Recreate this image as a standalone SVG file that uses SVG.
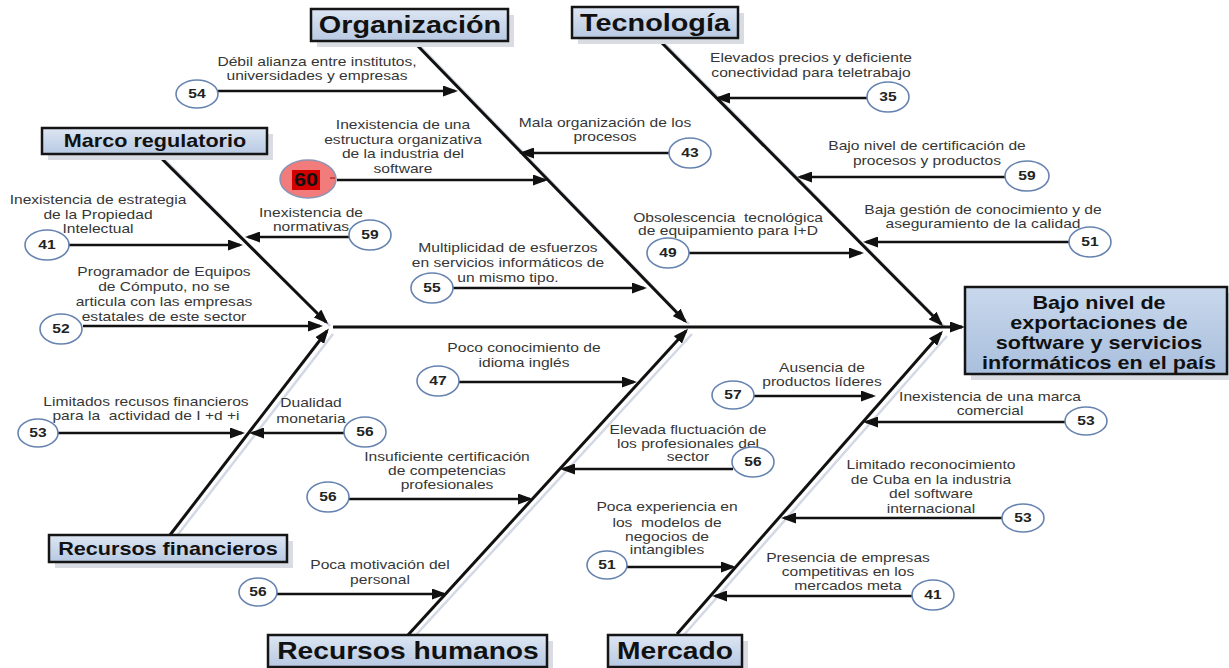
<svg xmlns="http://www.w3.org/2000/svg" width="1229" height="668" viewBox="0 0 1229 668">
<defs>
<linearGradient id="boxg" x1="0" y1="0" x2="0" y2="1"><stop offset="0" stop-color="#dde6f3"/><stop offset="1" stop-color="#b7c9e2"/></linearGradient>
<linearGradient id="effg" x1="0" y1="0" x2="0" y2="1"><stop offset="0" stop-color="#c9d8ec"/><stop offset="1" stop-color="#a9bfdd"/></linearGradient>
<marker id="ah" markerUnits="userSpaceOnUse" markerWidth="15" markerHeight="11" refX="12" refY="5.5" orient="auto"><path d="M0,0 L15,5.5 L0,11 z" fill="#111"/></marker>
<style>
.lbl{font-family:"Liberation Sans",Arial,sans-serif;font-size:13px;fill:#363636;text-anchor:middle}
.pre{white-space:pre}
.num{font-family:"Liberation Sans",Arial,sans-serif;font-size:13px;font-weight:bold;fill:#222;text-anchor:middle}
.big{font-size:18px;fill:#111}
.cat{font-family:"Liberation Sans",Arial,sans-serif;font-weight:bold;fill:#111;text-anchor:middle}
.box{fill:url(#boxg);stroke:#151515;stroke-width:2.5}
.shd{fill:#d9dde3}
.c{fill:#fff;stroke:#6683b0;stroke-width:1.6}
.ar{stroke:#111;stroke-width:2.5;fill:none;marker-end:url(#ah)}
.br{stroke:#111;stroke-width:3;fill:none;marker-end:url(#ah)}
.bs{stroke:#d2d9e4;stroke-width:2.5;fill:none}
</style>
</defs>
<rect width="1229" height="668" fill="#fff"/>

<g id="connectors">
<line class="bs" x1="162" y1="157" x2="330" y2="326"/>
<line class="bs" x1="176" y1="537" x2="333" y2="334"/>
<line class="bs" x1="418" y1="44" x2="689" y2="324"/>
<line class="bs" x1="414" y1="637" x2="692" y2="334"/>
<line class="bs" x1="662" y1="41" x2="945" y2="327"/>
<line class="bs" x1="683" y1="636" x2="947" y2="336"/>
<line class="br" x1="333" y1="327" x2="962" y2="327"/>
<line class="br" x1="157" y1="154" x2="326" y2="322"/>
<line class="br" x1="170" y1="535" x2="327" y2="331"/>
<line class="br" x1="413" y1="41" x2="685" y2="321"/>
<line class="br" x1="408" y1="635" x2="686" y2="331"/>
<line class="br" x1="657" y1="38" x2="941" y2="324"/>
<line class="br" x1="677" y1="634" x2="941" y2="333"/>
<line class="ar" x1="218" y1="91" x2="455" y2="91"/>
<line class="ar" x1="337" y1="180" x2="545" y2="180"/>
<line class="ar" x1="669" y1="153" x2="522" y2="153"/>
<line class="ar" x1="453" y1="288" x2="644" y2="288"/>
<line class="ar" x1="69" y1="245" x2="240" y2="245"/>
<line class="ar" x1="349" y1="237" x2="248" y2="237"/>
<line class="ar" x1="83" y1="326" x2="320" y2="326"/>
<line class="ar" x1="58" y1="433" x2="242" y2="433"/>
<line class="ar" x1="344" y1="433" x2="252" y2="433"/>
<line class="ar" x1="459" y1="382" x2="634" y2="382"/>
<line class="ar" x1="733" y1="469" x2="563" y2="469"/>
<line class="ar" x1="349" y1="499" x2="530" y2="499"/>
<line class="ar" x1="277" y1="594" x2="444" y2="594"/>
<line class="ar" x1="867" y1="98" x2="718" y2="98"/>
<line class="ar" x1="1005" y1="177" x2="800" y2="177"/>
<line class="ar" x1="689" y1="253" x2="861" y2="253"/>
<line class="ar" x1="1069" y1="242" x2="866" y2="242"/>
<line class="ar" x1="754" y1="396" x2="873" y2="396"/>
<line class="ar" x1="1066" y1="422" x2="866" y2="422"/>
<line class="ar" x1="1002" y1="518" x2="784" y2="518"/>
<line class="ar" x1="627" y1="567" x2="733" y2="567"/>
<line class="ar" x1="912" y1="596" x2="715" y2="596"/>
</g>

<g id="effect">
<rect x="971" y="293" width="262" height="87" fill="#d9dde3"/>
<rect x="965" y="287" width="262" height="87" fill="url(#effg)" stroke="#151515" stroke-width="2.5"/>
<text class="cat" font-size="18" transform="matrix(1.2,0,0,1,1099,0)"><tspan x="0" y="309">Bajo nivel de</tspan><tspan x="0" y="329">exportaciones de</tspan><tspan x="0" y="349">software y servicios</tspan><tspan x="0" y="369">informáticos en el país</tspan></text>
</g>

<g id="cat-organizacion">
<rect class="shd" x="317" y="15" width="197" height="32"/>
<rect class="box" x="311" y="9" width="197" height="32"/>
<text class="cat" font-size="24" transform="matrix(1.2,0,0,1,410,0)" x="0" y="33">Organización</text>
</g>
<g id="cat-tecnologia">
<rect class="shd" x="578" y="13" width="166" height="31"/>
<rect class="box" x="572" y="7" width="166" height="31"/>
<text class="cat" font-size="24" transform="matrix(1.2,0,0,1,655,0)" x="0" y="31">Tecnología</text>
</g>
<g id="cat-marco">
<rect class="shd" x="48" y="134" width="225" height="26"/>
<rect class="box" x="42" y="128" width="225" height="26"/>
<text class="cat" font-size="18" transform="matrix(1.2,0,0,1,155,0)" x="0" y="147">Marco regulatorio</text>
</g>
<g id="cat-financieros">
<rect class="shd" x="55" y="541" width="238" height="27"/>
<rect class="box" x="49" y="535" width="238" height="27"/>
<text class="cat" font-size="18" transform="matrix(1.2,0,0,1,168,0)" x="0" y="555">Recursos financieros</text>
</g>
<g id="cat-humanos">
<rect class="shd" x="274" y="641" width="279" height="32"/>
<rect class="box" x="268" y="635" width="279" height="32"/>
<text class="cat" font-size="23.5" transform="matrix(1.2,0,0,1,408,0)" x="0" y="659">Recursos humanos</text>
</g>
<g id="cat-mercado">
<rect class="shd" x="614" y="641" width="134" height="32"/>
<rect class="box" x="608" y="635" width="134" height="32"/>
<text class="cat" font-size="23.5" transform="matrix(1.2,0,0,1,675,0)" x="0" y="659">Mercado</text>
</g>

<g id="cause-alianza">
<text class="lbl" transform="matrix(1.2,0,0,1,317,0)"><tspan x="0" y="66">Débil alianza entre institutos,</tspan><tspan x="0" y="80">universidades y empresas</tspan></text>
<ellipse class="c" cx="197" cy="94" rx="21" ry="14"/><text class="num" transform="matrix(1.2,0,0,1,197,0)" x="0" y="98.5">54</text>
</g>
<g id="cause-estructura">
<text class="lbl" transform="matrix(1.2,0,0,1,403,0)"><tspan x="0" y="129.5">Inexistencia de una</tspan><tspan x="0" y="144">estructura organizativa</tspan><tspan x="0" y="158.5">de la industria del</tspan><tspan x="0" y="173">software</tspan></text>
<ellipse cx="308" cy="179" rx="28" ry="19" fill="#f27b7b" stroke="#8d93b3" stroke-width="1.6"/>
<rect x="292" y="170" width="28" height="20" fill="#d40000"/>
<text class="num big" transform="matrix(1.2,0,0,1,306,0)" x="0" y="186.5">60</text>
<line x1="330" y1="178" x2="335" y2="178" stroke="#b03030" stroke-width="1.5"/>
</g>
<g id="cause-mala-org">
<text class="lbl" transform="matrix(1.2,0,0,1,605,0)"><tspan x="0" y="127.5">Mala organización de los</tspan><tspan x="0" y="141.5">procesos</tspan></text>
<ellipse class="c" cx="690" cy="153" rx="21" ry="15"/><text class="num" transform="matrix(1.2,0,0,1,690,0)" x="0" y="157.5">43</text>
</g>
<g id="cause-multiplicidad">
<text class="lbl" transform="matrix(1.2,0,0,1,508,0)"><tspan x="0" y="252">Multiplicidad de esfuerzos</tspan><tspan x="0" y="267">en servicios informáticos de</tspan><tspan x="0" y="282">un mismo tipo.</tspan></text>
<ellipse class="c" cx="432" cy="288" rx="21" ry="15"/><text class="num" transform="matrix(1.2,0,0,1,432,0)" x="0" y="292.5">55</text>
</g>
<g id="cause-propiedad">
<text class="lbl" transform="matrix(1.2,0,0,1,98,0)"><tspan x="0" y="204.5">Inexistencia de estrategia</tspan><tspan x="0" y="219.5">de la Propiedad</tspan><tspan x="0" y="233">Intelectual</tspan></text>
<ellipse class="c" cx="47" cy="245" rx="22" ry="15"/><text class="num" transform="matrix(1.2,0,0,1,47,0)" x="0" y="249.5">41</text>
</g>
<g id="cause-normativas">
<text class="lbl" transform="matrix(1.2,0,0,1,311,0)"><tspan x="0" y="217.5">Inexistencia de</tspan><tspan x="0" y="231.5">normativas</tspan></text>
<ellipse class="c" cx="370" cy="235" rx="21" ry="15"/><text class="num" transform="matrix(1.2,0,0,1,370,0)" x="0" y="239.5">59</text>
</g>
<g id="cause-programador">
<text class="lbl" transform="matrix(1.2,0,0,1,164,0)"><tspan x="0" y="276">Programador de Equipos</tspan><tspan x="0" y="291">de Cómputo, no se</tspan><tspan x="0" y="306">articula con las empresas</tspan><tspan x="0" y="321">estatales de este sector</tspan></text>
<ellipse class="c" cx="61" cy="329" rx="21" ry="15"/><text class="num" transform="matrix(1.2,0,0,1,61,0)" x="0" y="333.5">52</text>
</g>
<g id="cause-limitados">
<text class="lbl pre" transform="matrix(1.2,0,0,1,146,0)"><tspan x="0" y="406.5">Limitados recusos financieros</tspan><tspan x="0" y="420.5">para la  actividad de I +d +i</tspan></text>
<ellipse class="c" cx="38" cy="433" rx="20" ry="14"/><text class="num" transform="matrix(1.2,0,0,1,38,0)" x="0" y="437.5">53</text>
</g>
<g id="cause-dualidad">
<text class="lbl" transform="matrix(1.2,0,0,1,311,0)"><tspan x="0" y="407.5">Dualidad</tspan><tspan x="0" y="423">monetaria</tspan></text>
<ellipse class="c" cx="365" cy="432" rx="21" ry="15"/><text class="num" transform="matrix(1.2,0,0,1,365,0)" x="0" y="436.5">56</text>
</g>
<g id="cause-ingles">
<text class="lbl" transform="matrix(1.2,0,0,1,524,0)"><tspan x="0" y="352.5">Poco conocimiento de</tspan><tspan x="0" y="367">idioma inglés</tspan></text>
<ellipse class="c" cx="438" cy="381" rx="21" ry="15"/><text class="num" transform="matrix(1.2,0,0,1,438,0)" x="0" y="385.5">47</text>
</g>
<g id="cause-fluctuacion">
<text class="lbl" transform="matrix(1.2,0,0,1,688,0)"><tspan x="0" y="434">Elevada fluctuación de</tspan><tspan x="0" y="448">los profesionales del</tspan><tspan x="0" y="461.5">sector</tspan></text>
<ellipse class="c" cx="753" cy="462" rx="21" ry="15"/><text class="num" transform="matrix(1.2,0,0,1,753,0)" x="0" y="466.5">56</text>
</g>
<g id="cause-certificacion-comp">
<text class="lbl" transform="matrix(1.2,0,0,1,447,0)"><tspan x="0" y="461.5">Insuficiente certificación</tspan><tspan x="0" y="475.5">de competencias</tspan><tspan x="0" y="489.5">profesionales</tspan></text>
<ellipse class="c" cx="328" cy="497" rx="21" ry="15"/><text class="num" transform="matrix(1.2,0,0,1,328,0)" x="0" y="501.5">56</text>
</g>
<g id="cause-motivacion">
<text class="lbl" transform="matrix(1.2,0,0,1,380,0)"><tspan x="0" y="569.5">Poca motivación del</tspan><tspan x="0" y="584.5">personal</tspan></text>
<ellipse class="c" cx="258" cy="592" rx="19" ry="14"/><text class="num" transform="matrix(1.2,0,0,1,258,0)" x="0" y="596.5">56</text>
</g>
<g id="cause-precios">
<text class="lbl" transform="matrix(1.2,0,0,1,811,0)"><tspan x="0" y="62.5">Elevados precios y deficiente</tspan><tspan x="0" y="77">conectividad para teletrabajo</tspan></text>
<ellipse class="c" cx="888" cy="97" rx="21" ry="15"/><text class="num" transform="matrix(1.2,0,0,1,888,0)" x="0" y="101.5">35</text>
</g>
<g id="cause-certificacion-proc">
<text class="lbl" transform="matrix(1.2,0,0,1,927,0)"><tspan x="0" y="150">Bajo nivel de certificación de</tspan><tspan x="0" y="165.5">procesos y productos</tspan></text>
<ellipse class="c" cx="1027" cy="176" rx="22" ry="15"/><text class="num" transform="matrix(1.2,0,0,1,1027,0)" x="0" y="180.5">59</text>
</g>
<g id="cause-obsolescencia">
<text class="lbl pre" transform="matrix(1.2,0,0,1,728,0)"><tspan x="0" y="222.5">Obsolescencia  tecnológica</tspan><tspan x="0" y="235.5">de equipamiento para I+D</tspan></text>
<ellipse class="c" cx="668" cy="253" rx="21" ry="15"/><text class="num" transform="matrix(1.2,0,0,1,668,0)" x="0" y="257.5">49</text>
</g>
<g id="cause-gestion">
<text class="lbl" transform="matrix(1.2,0,0,1,983,0)"><tspan x="0" y="214.5">Baja gestión de conocimiento y de</tspan><tspan x="0" y="228">aseguramiento de la calidad</tspan></text>
<ellipse class="c" cx="1090" cy="242" rx="21" ry="15"/><text class="num" transform="matrix(1.2,0,0,1,1090,0)" x="0" y="246.5">51</text>
</g>
<g id="cause-lideres">
<text class="lbl" transform="matrix(1.2,0,0,1,822,0)"><tspan x="0" y="372.5">Ausencia de</tspan><tspan x="0" y="386.5">productos líderes</tspan></text>
<ellipse class="c" cx="733" cy="395" rx="21" ry="14"/><text class="num" transform="matrix(1.2,0,0,1,733,0)" x="0" y="399.5">57</text>
</g>
<g id="cause-marca">
<text class="lbl" transform="matrix(1.2,0,0,1,990,0)"><tspan x="0" y="401">Inexistencia de una marca</tspan><tspan x="0" y="415.5">comercial</tspan></text>
<ellipse class="c" cx="1086" cy="421" rx="21" ry="14"/><text class="num" transform="matrix(1.2,0,0,1,1086,0)" x="0" y="425.5">53</text>
</g>
<g id="cause-reconocimiento">
<text class="lbl" transform="matrix(1.2,0,0,1,931,0)"><tspan x="0" y="469.5">Limitado reconocimiento</tspan><tspan x="0" y="484.5">de Cuba en la industria</tspan><tspan x="0" y="498.5">del software</tspan><tspan x="0" y="513">internacional</tspan></text>
<ellipse class="c" cx="1023" cy="518" rx="21" ry="14"/><text class="num" transform="matrix(1.2,0,0,1,1023,0)" x="0" y="522.5">53</text>
</g>
<g id="cause-experiencia">
<text class="lbl pre" transform="matrix(1.2,0,0,1,667,0)"><tspan x="0" y="511.5">Poca experiencia en</tspan><tspan x="0" y="527">los  modelos de</tspan><tspan x="0" y="541">negocios de</tspan><tspan x="0" y="554.5">intangibles</tspan></text>
<ellipse class="c" cx="607" cy="565" rx="20" ry="14"/><text class="num" transform="matrix(1.2,0,0,1,607,0)" x="0" y="569.5">51</text>
</g>
<g id="cause-competencia">
<text class="lbl" transform="matrix(1.2,0,0,1,848,0)"><tspan x="0" y="562.5">Presencia de empresas</tspan><tspan x="0" y="576.5">competitivas en los</tspan><tspan x="0" y="590.5">mercados meta</tspan></text>
<ellipse class="c" cx="933" cy="595" rx="21" ry="15"/><text class="num" transform="matrix(1.2,0,0,1,933,0)" x="0" y="599.5">41</text>
</g>
</svg>
